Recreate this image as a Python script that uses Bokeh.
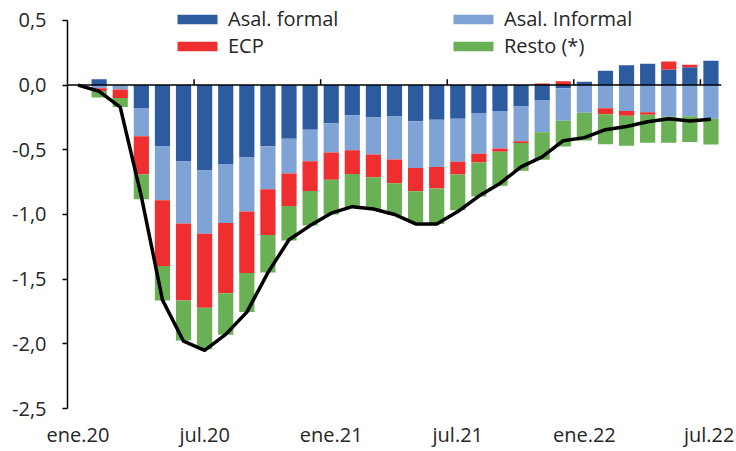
import numpy as np
from bokeh.plotting import figure
from bokeh.models import (ColumnDataSource, Legend, LegendItem, Span, FixedTicker)
from bokeh.embed import file_html
from bokeh.resources import INLINE

months = ["ene.20", "feb.20", "mar.20", "abr.20", "may.20", "jun.20", "jul.20", "ago.20",
          "sep.20", "oct.20", "nov.20", "dic.20", "ene.21", "feb.21", "mar.21", "abr.21",
          "may.21", "jun.21", "jul.21", "ago.21", "sep.21", "oct.21", "nov.21", "dic.21",
          "ene.22", "feb.22", "mar.22", "abr.22", "may.22", "jun.22", "jul.22"]

asal_formal = [0, 0.045, 0, -0.177, -0.475, -0.59, -0.66, -0.61, -0.56, -0.473, -0.414,
               -0.345, -0.295, -0.233, -0.25, -0.243, -0.28, -0.268, -0.26, -0.215, -0.2,
               -0.165, -0.115, -0.025, 0.025, 0.11, 0.153, 0.165, 0.12, 0.138, 0.188]
asal_informal = [0, -0.025, -0.035, -0.218, -0.415, -0.48, -0.49, -0.457, -0.418, -0.333,
                 -0.269, -0.244, -0.226, -0.27, -0.287, -0.333, -0.36, -0.365, -0.333,
                 -0.315, -0.29, -0.27, -0.25, -0.25, -0.213, -0.18, -0.2, -0.21, -0.245,
                 -0.24, -0.26]
ecp = [0, -0.02, -0.065, -0.297, -0.508, -0.595, -0.572, -0.543, -0.474, -0.352, -0.252,
       -0.23, -0.21, -0.185, -0.175, -0.182, -0.18, -0.167, -0.098, -0.069, -0.026,
       -0.013, 0.012, 0.03, 0, -0.045, -0.038, -0.02, 0.063, 0.02, 0]
resto = [0, -0.05, -0.07, -0.19, -0.267, -0.31, -0.32, -0.32, -0.303, -0.29, -0.267,
         -0.267, -0.27, -0.257, -0.246, -0.246, -0.243, -0.274, -0.277, -0.262, -0.262,
         -0.215, -0.213, -0.2, -0.215, -0.233, -0.23, -0.215, -0.2, -0.2, -0.2]
total = [0, -0.048, -0.17, -0.86, -1.66, -1.98, -2.05, -1.927, -1.755, -1.45, -1.196,
         -1.086, -0.99, -0.94, -0.958, -1.0, -1.073, -1.073, -0.978, -0.858, -0.76,
         -0.632, -0.555, -0.43, -0.406, -0.345, -0.32, -0.283, -0.26, -0.278, -0.265]

series_names = ["Asal. formal", "Asal. Informal", "ECP", "Resto (*)"]
series_colors = ["#2C5BA0", "#80A3D6", "#EE2E2F", "#6AB054"]
y_ticks = [-2.5, -2.0, -1.5, -1.0, -0.5, 0.0, 0.5]
x_label_every = 6

FONT = "Open Sans"
TXT = "#262626"

n = len(months)
x = np.arange(n)

W, H = 734, 450
PX_PER_UNIT = 130.0
TOP_PAD = 20  # extra frame room above 0,5 for the legend
p = figure(width=W, height=H, output_backend="svg", toolbar_location=None,
           x_range=(-0.5, n - 0.5), y_range=(-2.5, 0.5 + TOP_PAD / PX_PER_UNIT),
           min_border_left=67, min_border_right=W - 721, min_border_top=20 - TOP_PAD,
           min_border_bottom=H - 410)
p.outline_line_color = None
p.grid.visible = False
p.background_fill_color = "white"
p.border_fill_color = "white"

# stacked bars (positive and negative stacks separately, like Excel)
pos = np.zeros(n)
neg = np.zeros(n)
renderers = []
for vals, col in zip([asal_formal, asal_informal, ecp, resto], series_colors):
    v = np.array(vals, dtype=float)
    bottom = np.where(v >= 0, pos, neg)
    top = bottom + v
    pos = np.where(v >= 0, top, pos)
    neg = np.where(v < 0, top, neg)
    src = ColumnDataSource(dict(x=x, top=top, bottom=bottom))
    r = p.vbar(x="x", top="top", bottom="bottom", width=0.72, source=src,
               fill_color=col, line_color=None)
    renderers.append(r)

# zero line with category-boundary ticks
p.add_layout(Span(location=0, dimension="width", line_color="black", line_width=1.5))
tick_x = np.arange(x_label_every - 0.5, n, x_label_every)
p.segment(x0=tick_x, x1=tick_x, y0=np.zeros(len(tick_x)), y1=np.full(len(tick_x), 0.046),
          line_color="black", line_width=1.5)

# total line
p.line(x, total, line_color="black", line_width=3.5, line_join="round")

# y axis
ya = p.yaxis[0]
ya.bounds = (-2.5, 0.5)
ya.ticker = FixedTicker(ticks=y_ticks)
ya.major_label_overrides = {t: ("%.1f" % t).replace(".", ",") for t in y_ticks}
ya.minor_tick_line_color = None
ya.major_tick_in = 0
ya.major_tick_out = 5
ya.major_tick_line_color = "black"
ya.major_tick_line_width = 1.5
ya.axis_line_color = "black"
ya.axis_line_width = 1.5
ya.major_label_standoff = 16
ya.major_label_text_font = FONT
ya.major_label_text_font_size = "20px"
ya.major_label_text_color = TXT

# x axis: category labels only
lab_idx = list(range(0, n, x_label_every))
xa = p.xaxis[0]
xa.ticker = FixedTicker(ticks=lab_idx)
xa.major_label_overrides = {i: months[i] for i in lab_idx}
xa.axis_line_color = None
xa.major_tick_line_color = None
xa.minor_tick_line_color = None
xa.major_tick_in = 0
xa.major_tick_out = 0
xa.major_label_standoff = 12
xa.major_label_text_font = FONT
xa.major_label_text_font_size = "20px"
xa.major_label_text_color = TXT

# legends
def make_legend(items, loc):
    lg = Legend(items=items, location=loc, orientation="vertical",
                glyph_width=50, glyph_height=12, label_standoff=6, spacing=0,
                padding=0, margin=0, border_line_color=None, background_fill_alpha=0,
                label_text_font=FONT, label_text_font_size="20px",
                label_text_color=TXT, label_height=26)
    return lg

leg1 = make_legend([LegendItem(label=series_names[0], renderers=[renderers[0]]),
                    LegendItem(label=series_names[2], renderers=[renderers[2]])], (105, 349))
leg2 = make_legend([LegendItem(label=series_names[1], renderers=[renderers[1]]),
                    LegendItem(label=series_names[3], renderers=[renderers[3]])], (381, 349))
p.add_layout(leg1)
p.add_layout(leg2)

open("out.html", "w").write(file_html(p, INLINE))
